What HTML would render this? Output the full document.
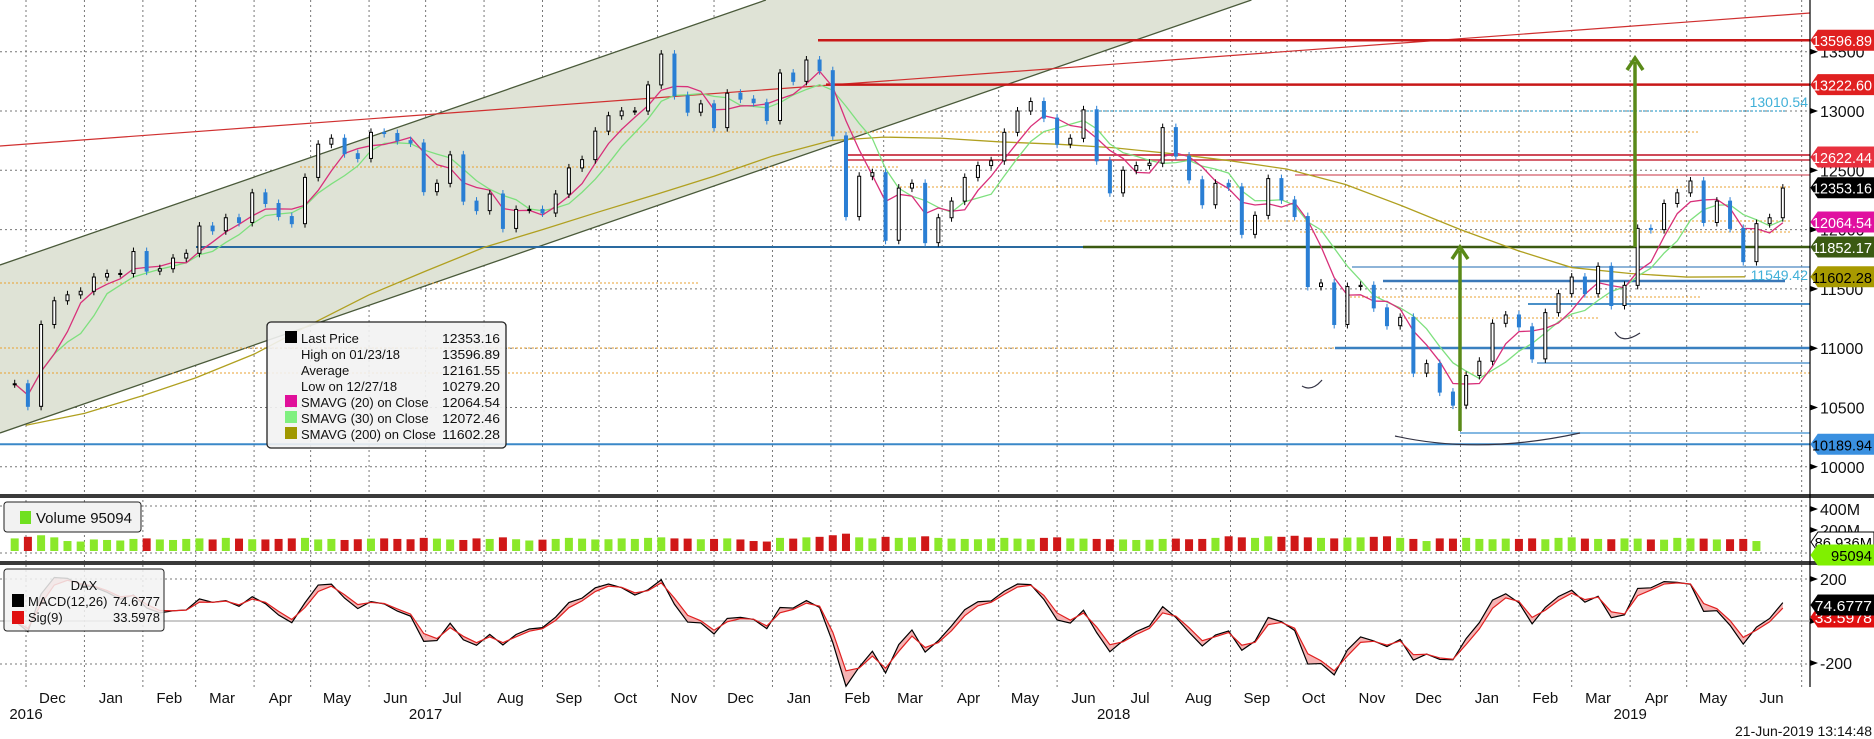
<!DOCTYPE html>
<html><head><meta charset="utf-8"><style>
html,body{margin:0;padding:0;background:#fff;}
svg{display:block;font-family:"Liberation Sans",sans-serif;}
</style></head><body>
<svg id="c" width="1874" height="739" viewBox="0 0 1874 739" xmlns="http://www.w3.org/2000/svg"></svg>
<script>
// ---- data (weekly closes Nov 25 2016 .. Jun 21 2019) ----
const closes=[10700,10510,11200,11400,11450,11480,
11600,11630,11630,11815,11650,11670,11760,11800,12030,11990,12100,12060,12310,12220,12110,12050,12440,12720,12770,12640,12600,12820,12810,12750,12730,12320,12390,12630,12240,12160,12300,12010,12170,12170,12140,12300,12520,12590,12830,12960,13000,13000,13220,13480,13130,12990,13060,12860,13150,13100,13070,12920,
13320,13250,13430,13340,12790,12110,12450,12480,11910,12350,12390,11890,12100,12240,12440,12540,12580,12820,13000,13080,12940,12720,12770,13010,12580,12310,12500,12540,12560,12860,12620,12420,12210,12390,12360,11960,12120,12430,12250,12110,11520,11550,11200,11520,11530,11340,11190,11260,10790,10870,10630,10520,
10770,10890,11210,11280,11180,10910,11300,11460,11600,11460,11690,11360,11530,12010,12000,12220,12310,12410,12060,12240,12010,11730,12050,12100,12350];
const volumes=[120,135,150,130,95,90,110,105,100,115,120,110,105,115,120,110,125,118,112,110,115,120,125,110,115,105,112,118,120,115,112,125,118,110,105,120,115,130,112,100,108,115,125,118,110,112,120,115,125,130,120,118,112,115,120,110,95,90,
125,118,130,135,150,165,130,120,135,125,130,140,125,118,115,112,120,125,118,112,125,130,120,118,115,112,110,105,108,115,118,112,115,125,140,130,125,140,135,145,130,125,120,128,130,135,140,125,115,95,
120,118,125,115,112,118,115,120,112,125,130,118,115,112,120,118,110,108,125,120,118,110,112,115,95];
const sma200Months=[10350,10450,10600,10750,10950,11200,11450,11650,11850,12000,12150,12300,12450,12620,12750,12780,12770,12740,12720,12690,12640,12580,12510,12380,12200,12000,11820,11680,11630,11600,11602];
const monthLabels=['Dec','Jan','Feb','Mar','Apr','May','Jun','Jul','Aug','Sep','Oct','Nov','Dec','Jan','Feb','Mar','Apr','May','Jun','Jul','Aug','Sep','Oct','Nov','Dec','Jan','Feb','Mar','Apr','May','Jun'];
const yearLabels=[['2016',2016,11,1],['2017',2017,6,1],['2018',2018,6,1],['2019',2019,3,1]];
const priceTicks=[13500,13000,12500,12000,11500,11000,10500,10000];
const volTicks=[['400M',400],['200M',200]];
const macdTicks=[['200',200],['-200',-200]];

const NS='http://www.w3.org/2000/svg',S=document.getElementById('c');
function el(t,a,p){const e=document.createElementNS(NS,t);for(const k in a)e.setAttribute(k,a[k]);(p||S).appendChild(e);return e;}
const py=p=>111+(13000-p)*0.1186;
const wx=i=>14.7+13.195*i;
const dx=(y,m,d)=>26+(Date.UTC(y,m,d)-Date.UTC(2016,11,1))/864e5*1.885;
const vy=v=>551-v*0.105;
const my=v=>621-v*0.21;
const R=1810;

// grid
const grid=el('g',{});

for(let m=0;m<=31;m++){const x=dx(2016,11+m,1);if(x>R)break;el('line',{x1:x,y1:0,x2:x,y2:687,stroke:'#777','stroke-dasharray':'2,3','stroke-width':1},grid);}
priceTicks.forEach(p=>el('line',{x1:0,y1:py(p),x2:R,y2:py(p),stroke:'#777','stroke-dasharray':'2,3'},grid));
[506,553,579,664].forEach(y=>el('line',{x1:0,y1:y,x2:R,y2:y,stroke:'#777','stroke-dasharray':'2,3'},grid));

// channel
const ch=el('polygon',{points:`0,265 ${265/0.346},0 ${433/0.346},0 0,433`,fill:'#dfe3d6',stroke:'none'});

el('line',{x1:0,y1:265,x2:265/0.346,y2:0,stroke:'#4a5a3a','stroke-width':1.3});
el('line',{x1:0,y1:433,x2:433/0.346,y2:0,stroke:'#4a5a3a','stroke-width':1.3});

// orange dotted levels
[[0,R,373],[0,R,348],[300,900,167],[600,1700,132],[900,1790,187],[0,700,283],[1100,1790,221],[1300,1790,232],[1350,1700,297],[1400,1600,318]].forEach(a=>el('line',{x1:a[0],y1:a[2],x2:a[1],y2:a[2],stroke:'#e8a030','stroke-dasharray':'2,2','stroke-width':1}));

// horizontal lines
function hl(x1,y,col,w,name){const l=el('line',{x1:x1,y1:y,x2:R,y2:y,stroke:col,'stroke-width':w});}
el('line',{x1:0,y1:146,x2:R,y2:13,stroke:'#d03030','stroke-width':1.2});
hl(818,py(13596.89),'#c81818',2.5,'high-line');
hl(826,py(13222.60),'#c81818',2.5,'resistance-13222');
hl(844,155,'#c83040',1.8,'resistance-12622');hl(844,160,'#c83040',1.5,'resistance-12622b');
hl(1295,175,'#c83040',1,'resistance-thin');
el('line',{x1:1083,y1:111,x2:1785,y2:111,stroke:'#40a8d0','stroke-dasharray':'2,2','stroke-width':1.3});
el('line',{x1:196,y1:247,x2:1083,y2:247,stroke:'#2a6aa0','stroke-width':2});
hl(1083,247,'#3b5a12',2.5,'support-11852');
hl(1352,267,'#4a88c0',1.2,'level-267');
el('line',{x1:1383,y1:281,x2:1785,y2:281,stroke:'#3a78b8','stroke-width':2.5});
hl(1528,304,'#4a90c8',2,'level-304');
hl(1335,348,'#3a80c0',2.5,'level-11000');
hl(1537,363,'#5a9ad0',1.5,'level-363');
hl(1460,433,'#5aa0d8',1.5,'level-433');
hl(0,py(10189.94),'#3a88c8',2,'support-10189');
const t1=el('text',{x:1808,y:107,'font-size':14,fill:'#40b0d8','text-anchor':'end'});t1.textContent='13010.54';
const t2=el('text',{x:1808,y:280,'font-size':14,fill:'#40b0d8','text-anchor':'end'});t2.textContent='11549.42';

// SMA200
const s200=el('polyline',{points:sma200Months.map((v,m)=>dx(2016,11+m,1)+','+py(v)).join(' '),fill:'none',stroke:'#b0a020','stroke-width':1.3});

function sma(n){return closes.map((c,i)=>{const a=closes.slice(Math.max(0,i-n+1),i+1);return a.reduce((s,v)=>s+v,0)/a.length;});}
const s30=el('polyline',{points:sma(6).map((v,i)=>wx(i)+','+py(v)).join(' '),fill:'none',stroke:'#7ee07e','stroke-width':1.3});

const s20=el('polyline',{points:sma(4).map((v,i)=>wx(i)+','+py(v)).join(' '),fill:'none',stroke:'#d8307a','stroke-width':1.3});


// candles
const cg=el('g',{});
closes.forEach((c,i)=>{const o=i?closes[i-1]:c;const up=c>=o;const x=wx(i);const y1=py(Math.max(o,c)),y2=py(Math.min(o,c));
 el('line',{x1:x,y1:y1-4,x2:x,y2:y2+4,stroke:up?'#000':'#2a7fd4','stroke-width':1},cg);
 const r=el('rect',{x:x-1.5,y:y1,width:3,height:Math.max(1,y2-y1),fill:up?'#fff':'#2a7fd4',stroke:up?'#000':'#2a7fd4','stroke-width':1},cg);
 });

// arrows
function arrow(x,y1,y2,name){const g=el('g',{});
 el('line',{x1:x,y1:y1,x2:x,y2:y2+4,stroke:'#5a8a18','stroke-width':3.5},g);
 el('polyline',{points:`${x-8},${y2+12} ${x},${y2} ${x+8},${y2+12}`,fill:'none',stroke:'#5a8a18','stroke-width':3.5},g);}
arrow(1460,431,247,'target-arrow-1');arrow(1635,247,58,'target-arrow-2');
el('path',{d:'M1395,436 Q1480,455 1580,433',fill:'none',stroke:'#334','stroke-width':1.2});
el('path',{d:'M1302,386 Q1312,392 1322,380',fill:'none',stroke:'#334','stroke-width':1.2});
el('path',{d:'M1615,332 Q1622,345 1640,333',fill:'none',stroke:'#334','stroke-width':1.2});

// main legend
const lg=el('g',{});
el('rect',{x:267,y:322,width:239,height:126,rx:4,fill:'#f2f2f2','fill-opacity':0.9,stroke:'#222','stroke-width':1.3},lg);
const rows=[['Last Price','12353.16','#000'],['High on 01/23/18','13596.89',null],['Average','12161.55',null],['Low on 12/27/18','10279.20',null],['SMAVG (20)  on Close','12064.54','#e0109a'],['SMAVG (30)  on Close','12072.46','#80f080'],['SMAVG (200)  on Close','11602.28','#a09800']];
rows.forEach((r,k)=>{const y=338+k*16;if(r[2])el('rect',{x:285,y:y-7,width:12,height:12,fill:r[2]},lg);
 const a=el('text',{x:301,y:y+5,'font-size':13,fill:'#111'},lg);a.textContent=r[0];
 const b=el('text',{x:500,y:y+5,'font-size':13,fill:'#111','text-anchor':'end',textLength:58,lengthAdjust:'spacingAndGlyphs'},lg);b.textContent=r[1];});

// panel separators
el('rect',{x:0,y:494,width:1874,height:4,fill:'#3a3a3a'});
el('rect',{x:0,y:561,width:1874,height:4,fill:'#3a3a3a'});
el('line',{x1:R,y1:0,x2:R,y2:687,stroke:'#000','stroke-width':1.2});

// volume
const vg=el('g',{});
volumes.forEach((v,i)=>{const up=i===0||closes[i]>=closes[i-1];
 const b=el('rect',{x:wx(i)-4,y:vy(v),width:8,height:551-vy(v),fill:up?'#8ae82a':'#d01818'},vg);
 });
const vl=el('g',{});
el('rect',{x:4,y:502,width:137,height:30,rx:3,fill:'#f2f2f2',stroke:'#222'},vl);
el('rect',{x:20,y:511,width:11,height:13,fill:'#70e020'},vl);
const vt=el('text',{x:36,y:523,'font-size':15,fill:'#111'},vl);vt.textContent='Volume 95094';

// MACD
const aF=2/(12/5+1),aS=2/(26/5+1),aG=2/(9/5+1);
let ef=closes[0],es=closes[0],sg=0;const macd=[],sig=[];
closes.forEach(c=>{ef+=aF*(c-ef);es+=aS*(c-es);const m=ef-es;sg+=aG*(m-sg);macd.push(m);sig.push(sg);});
el('line',{x1:0,y1:621,x2:R,y2:621,stroke:'#aaa','stroke-width':1.2});
const band=el('polygon',{points:macd.map((v,i)=>wx(i)+','+my(v)).concat(sig.map((v,i)=>wx(i)+','+my(v)).reverse()).join(' '),fill:'#f4a0a0','fill-opacity':0.8});

const ml=el('polyline',{points:macd.map((v,i)=>wx(i)+','+my(v)).join(' '),fill:'none',stroke:'#000','stroke-width':1.2});

const sl=el('polyline',{points:sig.map((v,i)=>wx(i)+','+my(v)).join(' '),fill:'none',stroke:'#e02020','stroke-width':1.2});

const ml2=el('g',{});
el('rect',{x:4,y:569,width:160,height:62,rx:3,fill:'#f2f2f2','fill-opacity':0.85,stroke:'#222'},ml2);
[['DAX',84,590,'middle'],['MACD(12,26)',28,606,'start'],['74.6777',160,606,'end'],['Sig(9)',28,622,'start'],['33.5978',160,622,'end']].forEach(t=>{const e=el('text',{x:t[1],y:t[2],'font-size':13,fill:'#111','text-anchor':t[3]},ml2);e.textContent=t[0];});
el('rect',{x:12,y:594,width:12,height:13,fill:'#000'},ml2);el('rect',{x:12,y:611,width:12,height:13,fill:'#e01010'},ml2);

// axes labels
function tick(y,label){el('polygon',{points:`${R},${y-3} ${R+8},${y} ${R},${y+3}`,fill:'#000'});
 if(label){const t=el('text',{x:R+10,y:y+6,'font-size':16,fill:'#111'});t.textContent=label;}}
priceTicks.forEach(p=>tick(py(p),String(p)));
volTicks.forEach(v=>tick(vy(v[1]),v[0]));
macdTicks.forEach(v=>tick(my(v[1]),v[0]));tick(621,'0');
function badge(y,txt,bg,fg,name){const g=el('g',{});
 el('polygon',{points:`${R+1},${y} ${R+8},${y-10} 1874,${y-10} 1874,${y+10} ${R+8},${y+10}`,fill:bg,stroke:bg==='#fff'?'#000':bg},g);
 const t=el('text',{x:1872,y:y+6,'font-size':15,fill:fg,'text-anchor':'end',textLength:Math.min(60,txt.length*8.2),lengthAdjust:'spacingAndGlyphs'},g);t.textContent=txt;}
badge(py(13596.89),'13596.89','#e02020','#fff','badge-high');
badge(py(13222.60),'13222.60','#e02020','#fff','badge-13222');
badge(157,'12622.44','#e8303e','#fff','badge-12622');
badge(py(12353.16),'12353.16','#000','#fff','badge-last');
badge(py(12064.54),'12064.54','#e010a0','#fff','badge-sma20');
badge(247,'11852.17','#3b5a12','#fff','badge-11852');
badge(py(11602.28),'11602.28','#a89a00','#000','badge-sma200');
badge(py(10189.94),'10189.94','#3a90e0','#000','badge-10189');
badge(542,'86.936M','#fff','#000','badge-avg-volume');
badge(555,'95094','#80f000','#000','badge-volume');
badge(617,'33.5978','#e01010','#fff','badge-signal');
badge(605,'74.6777','#000','#fff','badge-macd');

monthLabels.forEach((m,k)=>{const x=dx(2016,11+k,15);const t=el('text',{x:x,y:703,'font-size':15,fill:'#111','text-anchor':'middle'});
 t.textContent=m;});
yearLabels.forEach(a=>{const t=el('text',{x:dx(a[1],a[2],a[3]),y:719,'font-size':15,fill:'#111','text-anchor':'middle'});
 t.textContent=a[0];});
const ts=el('text',{x:1872,y:736,'font-size':14,fill:'#111','text-anchor':'end'});ts.textContent='21-Jun-2019 13:14:48';
</script>
</body></html>
